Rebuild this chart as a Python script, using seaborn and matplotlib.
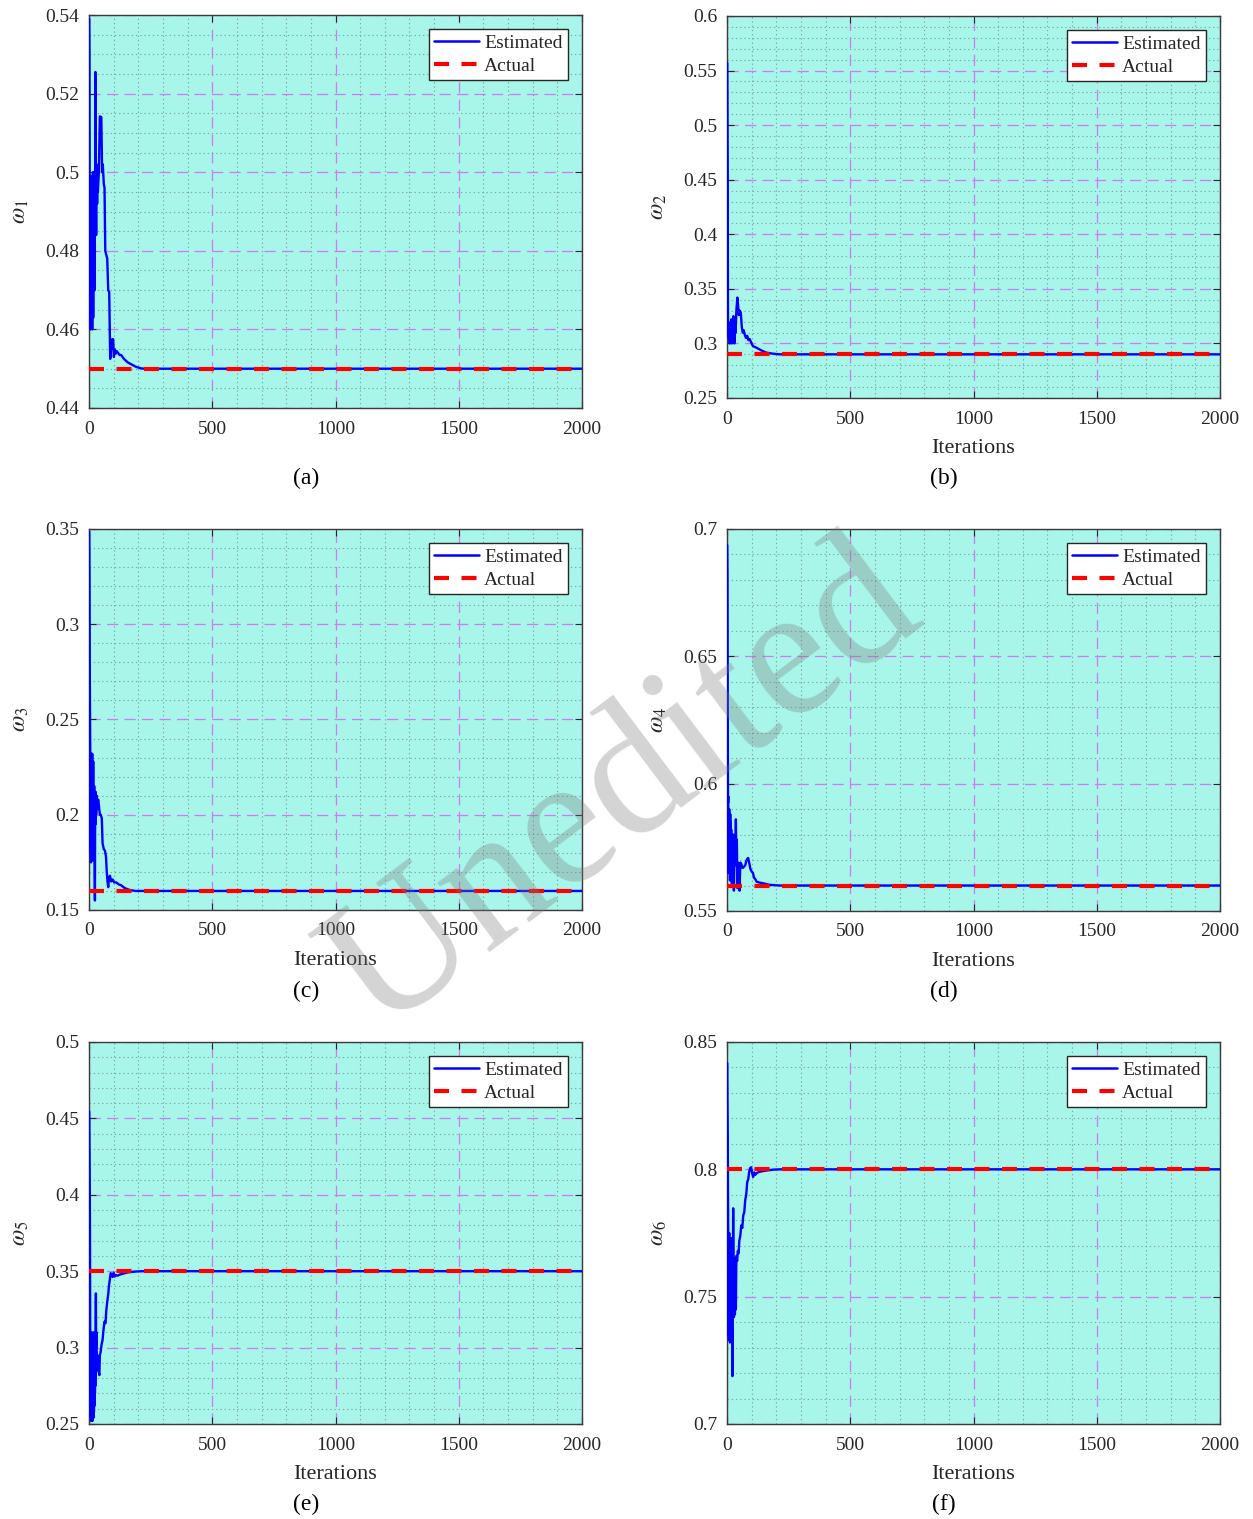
import numpy as np
import pandas as pd
import matplotlib
matplotlib.use("Agg")
import matplotlib.pyplot as plt
import seaborn as sns
from matplotlib.ticker import MultipleLocator, FuncFormatter
from matplotlib.lines import Line2D

# ---------------- data ----------------
iters_a = [1, 2, 3, 4, 5, 6, 7, 8, 9, 10, 11, 12, 13, 14, 15, 16, 17, 18, 19, 20,
           21, 22, 23, 24, 25, 26, 27, 28, 29, 30, 31, 32, 33, 34, 36, 40, 44, 50, 53,
           56, 60, 63, 66, 70, 74, 78, 82, 86, 90, 94, 98, 101, 104, 108, 112, 118, 124,
           130, 136, 142, 150, 160, 175, 190, 210, 225, 2000]
est_a = [0.539, 0.529, 0.468, 0.498, 0.460, 0.497, 0.466, 0.499, 0.462, 0.495, 0.470,
         0.498, 0.460, 0.494, 0.467, 0.500, 0.463, 0.497, 0.472, 0.498, 0.478, 0.500,
         0.470, 0.496, 0.488, 0.5255, 0.492, 0.500, 0.484, 0.502, 0.497, 0.499, 0.492,
         0.501, 0.495, 0.500, 0.5142, 0.514, 0.500, 0.502, 0.497, 0.496, 0.480, 0.479,
         0.478, 0.470, 0.4695, 0.4525, 0.455, 0.4575, 0.4575, 0.453, 0.455, 0.4538,
         0.4545, 0.454, 0.4535, 0.4535, 0.453, 0.4525, 0.452, 0.4515, 0.451, 0.4505,
         0.4501, 0.450, 0.450]

iters_b = [1, 2, 3, 4, 5, 7, 9, 11, 13, 15, 17, 19, 21, 23, 26, 28, 30, 32, 35, 38, 42,
           45, 48, 52, 56, 60, 64, 68, 72, 77, 82, 87, 92, 98, 104, 110, 120, 140, 160,
           190, 215, 2000]
est_b = [0.557, 0.508, 0.450, 0.310, 0.320, 0.305, 0.318, 0.300, 0.315, 0.310, 0.322,
         0.300, 0.316, 0.312, 0.325, 0.313, 0.300, 0.320, 0.310, 0.330, 0.342, 0.335,
         0.326, 0.330, 0.328, 0.315, 0.310, 0.312, 0.308, 0.305, 0.307, 0.303, 0.304,
         0.301, 0.298, 0.297, 0.296, 0.2935, 0.2915, 0.2905, 0.290, 0.290]

iters_c = [1, 2, 3, 4, 5, 6, 7, 8, 9, 10, 11, 12, 13, 14, 15, 16, 17, 18, 19, 20, 21,
           22, 23, 24, 25, 26, 27, 29, 31, 34, 37, 40, 44, 48, 52, 55, 60, 65, 69, 72,
           75, 78, 81, 85, 90, 96, 102, 110, 120, 130, 145, 165, 190, 220, 2000]
est_c = [0.3486, 0.325, 0.279, 0.255, 0.233, 0.180, 0.228, 0.175, 0.232, 0.180, 0.225,
         0.190, 0.232, 0.176, 0.220, 0.185, 0.228, 0.190, 0.212, 0.178, 0.215, 0.200,
         0.175, 0.155, 0.210, 0.195, 0.212, 0.200, 0.210, 0.203, 0.208, 0.205, 0.200,
         0.200, 0.198, 0.185, 0.182, 0.181, 0.178, 0.170, 0.165, 0.162, 0.167, 0.168,
         0.165, 0.166, 0.1645, 0.1645, 0.1635, 0.163, 0.1615, 0.1605, 0.160, 0.160, 0.160]

iters_d = [1, 2, 3, 4, 5, 6, 7, 8, 9, 10, 11, 12, 13, 14, 15, 16, 17, 18, 19, 20, 22,
           24, 26, 28, 30, 32, 34, 36, 38, 40, 42, 45, 48, 51, 54, 58, 62, 66, 70, 74,
           78, 82, 86, 90, 95, 100, 105, 110, 115, 120, 130, 140, 150, 170, 215, 2000]
est_d = [0.6937, 0.680, 0.628, 0.5924, 0.595, 0.565, 0.588, 0.572, 0.590, 0.575, 0.583,
         0.562, 0.588, 0.570, 0.585, 0.566, 0.582, 0.568, 0.574, 0.560, 0.575, 0.565,
         0.580, 0.558, 0.570, 0.575, 0.568, 0.586, 0.570, 0.578, 0.559, 0.569, 0.566,
         0.558, 0.569, 0.5685, 0.567, 0.567, 0.5675, 0.568, 0.5695, 0.5705, 0.5708,
         0.569, 0.5665, 0.5655, 0.565, 0.563, 0.5625, 0.5615, 0.5612, 0.561, 0.5608,
         0.5603, 0.560, 0.560]

iters_e = [1, 2, 3, 4, 5, 6, 7, 8, 9, 10, 11, 12, 13, 14, 15, 16, 17, 18, 19, 20, 21,
           22, 23, 24, 25, 26, 27, 28, 29, 30, 32, 34, 36, 39, 42, 44, 47, 51, 55, 59,
           63, 67, 70, 74, 78, 81, 85, 88, 92, 96, 100, 104, 108, 115, 125, 140, 160,
           190, 220, 2000]
est_e = [0.4545, 0.430, 0.405, 0.374, 0.300, 0.255, 0.290, 0.252, 0.300, 0.260, 0.310,
         0.255, 0.280, 0.252, 0.305, 0.260, 0.290, 0.254, 0.310, 0.258, 0.300, 0.262,
         0.305, 0.270, 0.290, 0.275, 0.315, 0.3355, 0.300, 0.310, 0.290, 0.295, 0.285,
         0.2846, 0.282, 0.295, 0.297, 0.302, 0.305, 0.312, 0.317, 0.316, 0.324, 0.330,
         0.335, 0.3405, 0.345, 0.3487, 0.348, 0.3462, 0.349, 0.3465, 0.3475, 0.347,
         0.3478, 0.3485, 0.3493, 0.3498, 0.350, 0.350]

iters_f = [1, 2, 3, 4, 5, 6, 7, 8, 9, 10, 11, 12, 13, 14, 15, 16, 17, 18, 19, 20, 21,
           22, 23, 24, 25, 26, 27, 28, 30, 32, 34, 36, 38, 41, 44, 47, 50, 54, 58, 62,
           66, 70, 74, 78, 82, 86, 90, 94, 98, 102, 106, 110, 114, 120, 130, 145, 165,
           190, 215, 2000]
est_f = [0.8417, 0.825, 0.8135, 0.790, 0.773, 0.735, 0.770, 0.733, 0.775, 0.740, 0.772,
         0.732, 0.765, 0.735, 0.770, 0.738, 0.773, 0.734, 0.760, 0.736, 0.755, 0.7188,
         0.750, 0.745, 0.7847, 0.760, 0.748, 0.742, 0.765, 0.743, 0.760, 0.745, 0.766,
         0.764, 0.768, 0.767, 0.772, 0.774, 0.778, 0.777, 0.782, 0.783, 0.788, 0.790,
         0.795, 0.796, 0.799, 0.8005, 0.8008, 0.7985, 0.797, 0.7988, 0.7978, 0.7985,
         0.799, 0.7993, 0.7996, 0.7999, 0.800, 0.800]

actual_values = [0.45, 0.29, 0.16, 0.56, 0.35, 0.80]
actual_iters = [1, 2000]

panel_tags = ["(a)", "(b)", "(c)", "(d)", "(e)", "(f)"]
ylabels = [r"$\omega_1$", r"$\omega_2$", r"$\omega_3$", r"$\omega_4$", r"$\omega_5$", r"$\omega_6$"]
y_limits = [(0.44, 0.54), (0.25, 0.6), (0.15, 0.35), (0.55, 0.7), (0.25, 0.5), (0.7, 0.85)]
y_major = [0.02, 0.05, 0.05, 0.05, 0.05, 0.05]
y_minor = [0.005, 0.01, 0.01, 0.01, 0.01, 0.01]
x_ticks = [0, 500, 1000, 1500, 2000]
legend_labels = ["Estimated", "Actual"]

series_iters = [iters_a, iters_b, iters_c, iters_d, iters_e, iters_f]
series_est = [est_a, est_b, est_c, est_d, est_e, est_f]

# ---------------- style ----------------
sns.set_theme(style="ticks")
plt.rcParams["font.family"] = ["Liberation Serif", "DejaVu Serif"]
plt.rcParams["mathtext.fontset"] = "stix"

W, H = 1253, 1519
fig = plt.figure(figsize=(W / 100, H / 100), dpi=100)

# axes boxes in pixels: (left, top, right, bottom)
boxes = [(89, 15, 582, 408), (727, 16, 1220, 398),
         (89, 529, 582, 910), (727, 529, 1220, 911),
         (89, 1042, 582, 1424), (727, 1042, 1220, 1424)]
tag_pos = [(306, 478), (944, 478), (306, 991), (944, 991), (306, 1504), (944, 1504)]
has_xlabel = [False, True, True, True, True, True]

bg = "#a8f5e9"
text_col = "#262626"
actual_dash = (0, (3.6, 3.0))

for i in range(6):
    l, t, r, b = boxes[i]
    ax = fig.add_axes([l / W, 1 - b / H, (r - l) / W, (b - t) / H])
    ax.set_facecolor(bg)

    df_est = pd.DataFrame({"Iteration": series_iters[i], "value": series_est[i]})
    df_act = pd.DataFrame({"Iteration": actual_iters,
                           "value": [actual_values[i]] * len(actual_iters)})

    sns.lineplot(data=df_est, x="Iteration", y="value", ax=ax, color="#0000ff",
                 linewidth=1.7, sort=False, estimator=None, zorder=3)
    sns.lineplot(data=df_act, x="Iteration", y="value", ax=ax, color="#ff0000",
                 linewidth=3.0, linestyle=actual_dash, sort=False, estimator=None,
                 zorder=4)

    ax.set_xlim(0, 2000)
    ax.set_ylim(*y_limits[i])
    ax.set_xticks(x_ticks)
    ax.xaxis.set_minor_locator(MultipleLocator(100))
    ax.yaxis.set_major_locator(MultipleLocator(y_major[i]))
    ax.yaxis.set_minor_locator(MultipleLocator(y_minor[i]))
    ax.yaxis.set_major_formatter(FuncFormatter(lambda v, p: f"{round(v, 4):g}"))
    ax.xaxis.set_major_formatter(FuncFormatter(lambda v, p: f"{int(round(v))}"))

    ax.grid(which="minor", color="#7fa9a3", linestyle=(0, (1.2, 2.6)), linewidth=0.8, zorder=1)
    ax.grid(which="major", color="#cf7cf0", linestyle=(0, (9, 5)), linewidth=0.9, zorder=2)
    ax.set_axisbelow(True)

    ax.tick_params(axis="both", which="major", direction="in", length=5, width=0.8,
                   top=True, right=True, labelsize=14, colors=text_col)
    ax.tick_params(axis="x", which="major", pad=9)
    ax.tick_params(axis="y", which="major", pad=7)
    ax.tick_params(which="minor", length=0, top=True, right=True)
    for s in ax.spines.values():
        s.set_color("#3a3a3a")
        s.set_linewidth(1.0)

    ax.set_ylabel(ylabels[i], fontsize=17, color=text_col, rotation=90)
    ax.yaxis.set_label_coords(-0.118, 0.5)
    if has_xlabel[i]:
        ax.set_xlabel("Iterations", fontsize=16, color=text_col)
        ax.xaxis.set_label_coords(0.5, -0.108)
    else:
        ax.set_xlabel("")

    handles = [Line2D([], [], color="#0000ff", linewidth=1.8),
               Line2D([], [], color="#ff0000", linewidth=3.0, linestyle=actual_dash)]
    leg = ax.legend(handles, legend_labels, loc="upper right", fontsize=14,
                    frameon=True, fancybox=False, framealpha=1, edgecolor="#262626",
                    borderpad=0.3, labelspacing=0.25, handlelength=2.3, handletextpad=0.25,
                    borderaxespad=0.7)
    leg.get_frame().set_linewidth(1.0)
    for txt in leg.get_texts():
        txt.set_color(text_col)

    tx, ty = tag_pos[i]
    fig.text(tx / W, 1 - ty / H, panel_tags[i], fontsize=17, ha="center", va="center",
             color="black")

# watermark
fig.text(625 / W, 1 - 790 / H, "Unedited", fontsize=135, rotation=37, ha="center",
         va="center", color="#7a7a7a", alpha=0.32, zorder=10)

fig.savefig("out.png", dpi=100)
